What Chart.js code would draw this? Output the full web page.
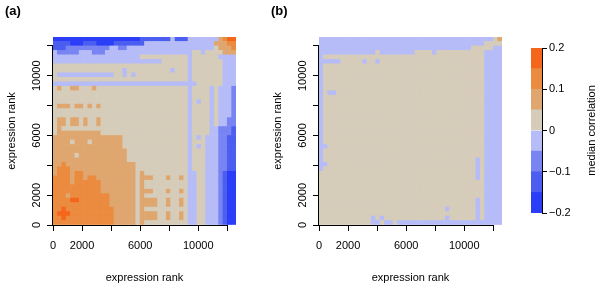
<!DOCTYPE html>
<html>
<head>
<meta charset="utf-8">
<script src="https://cdn.jsdelivr.net/npm/chart.js@4.4.1/dist/chart.umd.min.js"></script>
<style>
  html, body { margin: 0; padding: 0; background: #fff; }
  #wrap { position: relative; width: 600px; height: 285px; overflow: hidden; }
  #wrap canvas { position: absolute; top: 0; }
</style>
</head>
<body>
<div id="wrap">
  <canvas id="panelA" width="236" height="285" style="left:0"></canvas>
  <canvas id="panelB" width="236" height="285" style="left:266px"></canvas>
  <canvas id="colorKey" width="98" height="285" style="left:502px"></canvas>
</div>
<script>
// expression rank bins (mid points), each bin is 300 ranks wide
const rankBins = [150, 450, 750, 1050, 1350, 1650, 1950, 2250, 2550, 2850, 3150, 3450, 3750, 4050,
  4350, 4650, 4950, 5250, 5550, 5850, 6150, 6450, 6750, 7050, 7350, 7650, 7950, 8250,
  8550, 8850, 9150, 9450, 9750, 10050, 10350, 10650, 10950, 11250, 11550, 11850, 12150, 12450];
const binHeight = 300;
const rankTicks = [0, 2000, 4000, 6000, 8000, 10000, 12000];
const rankLabels = [0, 2000, 6000, 10000];

// colour classes of the median correlation
const corrBreaks = [-0.2, -0.15, -0.1, -0.05, 0, 0.05, 0.1, 0.15, 0.2];
const corrTicks = [-0.2, -0.1, 0, 0.1, 0.2];
const corrColors = ["#2b3ef7", "#4b5ef0", "#7884f2", "#b6bcf7", "#d6ccba", "#dfa76f", "#eb8b3f", "#f4661b"];

// class index per cell, top row first, "class*count" runs
const gridA = [
  "0*20 1*7 3 1*3 3*7 5 6 7*2",
  "1*4 0*3 1*3 0*4 1*7 3*16 5*3 6*2",
  "1*3 2*10 3*2 2*2 3*20 4 5*3 6",
  "3 2*5 3*3 2*3 3*20 4*2 3 4*4 5*3",
  "3*20 4*11 3 4*6 3*4",
  "3*25 4*6 3 4*7 3*3",
  "4*31 3 4*7 3*3",
  "4*16 3 4*10 3 4*3 3 4*7 3*3",
  "4 3*13 4*2 3 4 3 4*12 3 4*7 3*3",
  "4*31 3 4*7 3*3",
  "3*33 4*6 3*3",
  "4 5 4*2 5*2 4*3 5 4*21 3 4*4 3 4 3*3 2",
  "4*31 3 4*4 3 4 3*3 2",
  "4*31 3 4*4 3 4 3*3 2",
  "4*31 3 4 3 4*2 3 4 3*3 2",
  "4 5*3 4 5*2 4 5 4 5 4*20 3 4*4 3 4 3*3 2",
  "4*31 3 4*4 3 4 3*3 2",
  "4*31 3 4*4 3 4 3*3 2",
  "4 5*2 4 5*2 4 5 4*2 5 4*20 3 4*4 3 4 3*2 2*2",
  "4 5*2 4 5*2 4 5 4*2 5 4*20 3 4*4 3 4 3*2 2*2",
  "4 5 4*29 3 4*4 3*2 2*3 1",
  "4 5*10 4*20 3 4*4 3*2 2*3 1",
  "5*16 4*15 3 4 3 4 3*3 2*2 1*2",
  "5*4 4 5*3 4 5*7 4*15 3 4*3 3*3 2*2 1*2",
  "5*16 4*15 3 4 3 4 3*3 2*2 1*2",
  "5*17 4*14 3 4*3 3*3 2*2 1*2",
  "5*5 4 5*11 4*14 3 4*3 3*3 2*2 1*2",
  "5*17 4*14 3 4*3 3*3 2*2 1*2",
  "5*2 6 5*16 4*12 3 4*3 3*3 2*2 1*2",
  "5 6*3 5*15 4*12 3 4*3 3*3 2*2 1*2",
  "5 6*3 5 6*2 5*12 4 5 4*10 3*2 4*2 3*3 2 1 0*2",
  "6*4 5 6*2 5 6*2 5*9 4 5 5*2 4*3 5 4*2 5 4 3*2 4*2 3*3 2 1 0*2",
  "6*4 5 6*6 5*8 4 5 4*10 3*2 4*2 3*3 2 1 0*2",
  "6*11 5*8 4 5 4*10 3*2 4*2 3*3 2 1 0*2",
  "6*11 5*8 4 5 5*2 4*3 5 4*2 5 4 3*2 4*2 3*3 2 1 0*2",
  "6*3 5 6*9 5*6 4 5 4*10 3*2 4*2 3*3 2 1 0*2",
  "6*4 7*2 6*7 5*6 4 5 5*3 4*2 5 4*2 5 4 3*2 4*2 3*3 2 1 0*2",
  "6*13 5*6 4 5 5*3 4*2 5 4*2 5 4 3*2 4*2 3*3 2 1 0*2",
  "6*2 7 6*11 5*5 4 5 4*10 3*2 4*2 3*3 2 1 0*2",
  "6 7*3 6*10 5*5 4 5 5*3 4*2 5 4*2 5 4 3*2 4*2 3*3 2 1 0*2",
  "6*2 7 6*11 5*5 4 5 5*3 4*2 5 4*2 5 4 3*2 4*2 3*3 2 1 0*2",
  "6*14 5*5 4 5 4*10 3*2 4*2 3*3 2 1 0*2",
];

const gridB = [
  "3*40 4 5",
  "3*38 4*4",
  "3*35 4*5 3*2",
  "3*13 4 3*8 4*4 3 4*11 3*4",
  "3 4*37 3*4",
  "3*5 4*5 3 4*2 3 4*24 3*4",
  "3 4*37 3*4",
  "3 4*37 3*4",
  "3 4*37 3*4",
  "3 4*37 3*4",
  "3 4*37 3*4",
  "3 4*37 3*4",
  "3 4 3*2 4*34 3*4",
  "3 4*37 3*4",
  "3 4*37 3*4",
  "3 4*37 3*4",
  "3 4*37 3*4",
  "3 4*37 3*4",
  "3 4*37 3*4",
  "3 4*37 3*4",
  "3 4*37 3*4",
  "3 4*37 3*4",
  "3 4*37 3*4",
  "3 4*37 3*4",
  "3*2 4*36 3*4",
  "3 4*37 3*4",
  "3 4*37 3*4",
  "3 4*35 3 4 3*4",
  "3*2 4*34 3 4 3*4",
  "3 4*35 3 4 3*4",
  "4*36 3 4 3*4",
  "4*36 3 4 3*4",
  "4*38 3*4",
  "4*38 3*4",
  "4*38 3*4",
  "4*38 3*4",
  "4*36 3 4 3*4",
  "4*36 3 4 3*4",
  "4*29 3 4*6 3 4 3*4",
  "4*36 3 4 3*4",
  "4*12 3 4 3 4*14 3 4*6 3 4 3*4",
  "4*12 3*2 4 3*2 4 3*24",
];

Chart.defaults.font.family = '"Liberation Sans", Arial, sans-serif';
Chart.defaults.font.size = 11;
Chart.defaults.color = "#000";

function expandRow(row) {
  const out = [];
  row.split(" ").forEach((tok) => {
    const [lvl, n] = tok.split("*");
    for (let k = 0; k < (n ? +n : 1); k++) out.push(+lvl);
  });
  return out;
}

function heatDatasets(grid) {
  // stacked from the bottom, so the last row goes first
  return grid.slice().reverse().map((row) => {
    const levels = expandRow(row);
    return {
      data: rankBins.map((x) => ({ x: x, y: binHeight })),
      backgroundColor: levels.map((l) => corrColors[l]),
      borderWidth: 0,
      barPercentage: 1,
      categoryPercentage: 1,
    };
  });
}

// R style axis line: only from the first to the last tick
const rAxisLine = {
  id: "rAxisLine",
  afterDraw(chart) {
    const { ctx, chartArea, scales } = chart;
    const x = scales.x, y = scales.y;
    const by = Math.round(chartArea.bottom) + 0.5;
    const lx = Math.round(chartArea.left) - 0.5;
    ctx.save();
    ctx.strokeStyle = "#000";
    ctx.lineWidth = 1;
    ctx.beginPath();
    ctx.moveTo(x.getPixelForValue(0), by);
    ctx.lineTo(x.getPixelForValue(12000), by);
    ctx.moveTo(lx, y.getPixelForValue(0));
    ctx.lineTo(lx, y.getPixelForValue(12000));
    ctx.stroke();
    ctx.restore();
  },
};

function rankLabel(v) {
  return rankLabels.includes(v) ? String(v) : "";
}

function noOverhang(s) {
  s.paddingLeft = 0;
  s.paddingRight = 0;
  s.paddingTop = 0;
  s.paddingBottom = 0;
}

function rankAxis(extra) {
  return Object.assign({
    type: "linear",
    min: 0,
    max: 12600,
    offset: false,
    stacked: true,
    afterBuildTicks: (s) => { s.ticks = rankTicks.map((v) => ({ value: v })); },
    border: { display: false },
    grid: { drawOnChartArea: false, offset: false, color: "#000", tickLength: 6 },
    title: { display: true, text: "expression rank", padding: 0 },
  }, extra);
}

function panelOptions(label) {
  return {
    responsive: false,
    animation: false,
    layout: { padding: { left: 5, right: 0, top: 0, bottom: 0 } },
    plugins: {
      legend: { display: false },
      tooltip: { enabled: false },
      title: {
        display: true,
        text: label,
        align: "start",
        font: { size: 13, weight: "bold" },
        padding: { top: 4, bottom: 17.4 },
      },
    },
    scales: {
      x: rankAxis({
        afterFit: (s) => { s.height = 60; noOverhang(s); },
        ticks: {
          autoSkip: false, minRotation: 0, maxRotation: 0, padding: 8,
          callback: rankLabel,
        },
      }),
      y: rankAxis({
        afterFit: (s) => { s.width = 48; noOverhang(s); },
        ticks: {
          autoSkip: false, minRotation: 90, maxRotation: 90, crossAlign: "center", padding: -5,
          callback: rankLabel,
        },
      }),
    },
  };
}

new Chart(document.getElementById("panelA"), {
  type: "bar",
  data: { datasets: heatDatasets(gridA) },
  options: panelOptions("(a)"),
  plugins: [rAxisLine],
});

new Chart(document.getElementById("panelB"), {
  type: "bar",
  data: { datasets: heatDatasets(gridB) },
  options: panelOptions("(b)"),
  plugins: [rAxisLine],
});

const keyTitle = {
  id: "keyTitle",
  afterDraw(chart) {
    const { ctx, chartArea } = chart;
    ctx.save();
    ctx.translate(90, (chartArea.top + chartArea.bottom) / 2);
    ctx.rotate(-Math.PI / 2);
    ctx.font = '11px "Liberation Sans", Arial, sans-serif';
    ctx.fillStyle = "#000";
    ctx.textAlign = "center";
    ctx.textBaseline = "middle";
    ctx.fillText("median correlation", 0, 0);
    ctx.restore();
  },
};

new Chart(document.getElementById("colorKey"), {
  type: "bar",
  data: {
    labels: ["key"],
    datasets: corrColors.map((c, i) => ({
      data: [[corrBreaks[i], corrBreaks[i + 1]]],
      backgroundColor: c,
      borderWidth: 0,
      barPercentage: 1,
      categoryPercentage: 1,
    })),
  },
  options: {
    responsive: false,
    animation: false,
    layout: { padding: { left: 29, right: 0, top: 48, bottom: 72 } },
    plugins: { legend: { display: false }, tooltip: { enabled: false } },
    scales: {
      x: { display: false, stacked: true },
      y: {
        position: "right",
        min: -0.2,
        max: 0.2,
        afterFit: (s) => { s.width = 58; },
        afterBuildTicks: (s) => { s.ticks = corrTicks.map((v) => ({ value: v })); },
        border: { display: true, color: "#000" },
        grid: { drawOnChartArea: false, color: "#000", tickLength: 5 },
        ticks: {
          autoSkip: false, padding: 2,
          callback: (v) => (v === 0 ? "0" : (v < 0 ? "\u2212" : "") + Math.abs(v).toFixed(1)),
        },
      },
    },
  },
  plugins: [keyTitle],
});
</script>
</body>
</html>
